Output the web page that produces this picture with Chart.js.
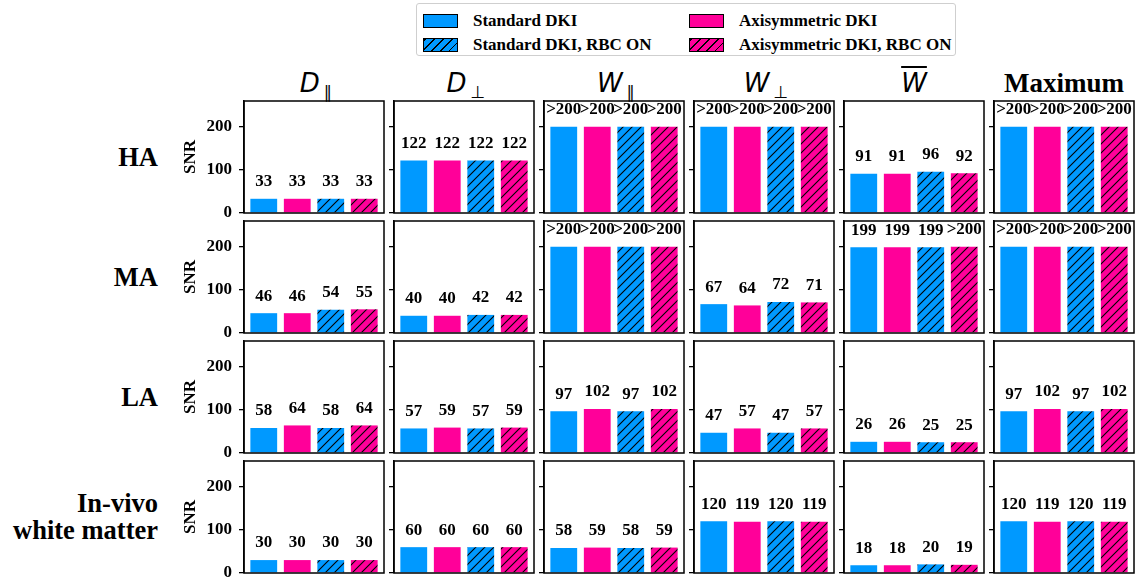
<!DOCTYPE html>
<html>
<head>
<meta charset="utf-8">
<script src="https://cdn.jsdelivr.net/npm/chart.js@4.4.0/dist/chart.umd.min.js"></script>
<style>
  body { margin: 0; width: 1138px; height: 580px; position: relative; background: #fff; overflow: hidden; font-family: 'Liberation Serif', 'Times New Roman', serif; }
  canvas { position: absolute; }
  .row-label { position: absolute; right: 980px; font-family: 'Liberation Serif', 'Times New Roman', serif; font-weight: bold; font-size: 26.5px; line-height: 27px; text-align: right; white-space: pre; transform: translateY(-50%); }
  .col-title { position: absolute; top: 68px; width: 140px; text-align: center; line-height: 30px; white-space: nowrap; color: #000; }
  .m { font-family: 'DejaVu Sans', sans-serif; font-style: italic; font-size: 26px; }
  .sub { display: inline-block; font-family: 'DejaVu Sans', sans-serif; font-size: 17px; transform: translate(4px, 6px); opacity: 0.99; }
  .maxt { font-family: 'Liberation Serif', serif; font-weight: bold; font-size: 27px; }
  #legend { position: absolute; left: 416px; top: 3px; width: 540px; height: 53px; border: 1px solid #cfcfcf; border-radius: 3px; box-sizing: border-box; }
  .lg { position: absolute; font-weight: bold; font-size: 17px; line-height: 20px; white-space: nowrap; }
  .patch { position: absolute; width: 33px; height: 12px; border: 1.5px solid #000; }
</style>
</head>
<body>
<div id="legend"></div>
<script>
// legend / series
const seriesNames = ['Standard DKI', 'Axisymmetric DKI', 'Standard DKI, RBC ON', 'Axisymmetric DKI, RBC ON'];
const seriesColors = ['#0099ff', '#ff0099', '#0099ff', '#ff0099'];
const seriesHatched = [false, false, true, true];

const rowNames = ['HA', 'MA', 'LA', 'In-vivo\nwhite matter'];
const colTitles = [
  '<span class="m">D</span><span class="sub">\u2225</span>',
  '<span class="m">D</span><span class="sub">\u22a5</span>',
  '<span class="m">W</span><span class="sub">\u2225</span>',
  '<span class="m">W</span><span class="sub">\u22a5</span>',
  '<span class="m" style="text-decoration: overline;">W</span>',
  '<span class="maxt">Maximum</span>'
];
const yTicks = [0, 100, 200];
const yMax = 260;

// SNR per panel (D par, D perp, W par, W perp, W mean, Maximum), 4 series each
const haValues = [
  ['33', '33', '33', '33'],
  ['122', '122', '122', '122'],
  ['>200', '>200', '>200', '>200'],
  ['>200', '>200', '>200', '>200'],
  ['91', '91', '96', '92'],
  ['>200', '>200', '>200', '>200']
];
const maValues = [
  ['46', '46', '54', '55'],
  ['40', '40', '42', '42'],
  ['>200', '>200', '>200', '>200'],
  ['67', '64', '72', '71'],
  ['199', '199', '199', '>200'],
  ['>200', '>200', '>200', '>200']
];
const laValues = [
  ['58', '64', '58', '64'],
  ['57', '59', '57', '59'],
  ['97', '102', '97', '102'],
  ['47', '57', '47', '57'],
  ['26', '26', '25', '25'],
  ['97', '102', '97', '102']
];
const invivoValues = [
  ['30', '30', '30', '30'],
  ['60', '60', '60', '60'],
  ['58', '59', '58', '59'],
  ['120', '119', '120', '119'],
  ['18', '18', '20', '19'],
  ['120', '119', '120', '119']
];
const allRows = [haValues, maValues, laValues, invivoValues];

// layout
const panelLeft = [244, 394, 544, 694, 844, 994];
const panelTop = [101, 221, 341, 461];
const PW = 140, PH = 112, PAD = 22;
const serif = "'Liberation Serif', 'Times New Roman', serif";

function hatch(color) {
  const t = document.createElement('canvas');
  t.width = t.height = 9;
  const g = t.getContext('2d');
  g.fillStyle = color;
  g.fillRect(0, 0, 9, 9);
  g.strokeStyle = '#000';
  g.lineWidth = 1.1;
  g.beginPath();
  g.moveTo(0, 9); g.lineTo(9, 0);
  g.moveTo(-1, 1); g.lineTo(1, -1);
  g.moveTo(8, 10); g.lineTo(10, 8);
  g.stroke();
  return g.createPattern(t, 'repeat');
}
const fills = seriesColors.map((c, i) => seriesHatched[i] ? hatch(c) : c);

// legend
const legend = document.getElementById('legend');
const legendPos = [[6, 9], [272, 9], [6, 33], [272, 33]];
seriesNames.forEach((name, i) => {
  const [lx, ly] = legendPos[i];
  const p = document.createElement('div');
  p.className = 'patch';
  p.style.left = lx + 'px';
  p.style.top = (ly + 1) + 'px';
  p.style.background = seriesHatched[i]
    ? `repeating-linear-gradient(-45deg, ${seriesColors[i]} 0 5px, #000 5px 6.3px)`
    : seriesColors[i];
  legend.appendChild(p);
  const t = document.createElement('div');
  t.className = 'lg';
  t.style.left = (lx + 50) + 'px';
  t.style.top = (ly - 2) + 'px';
  t.textContent = name;
  legend.appendChild(t);
});

// titles
colTitles.forEach((html, c) => {
  const d = document.createElement('div');
  d.className = 'col-title';
  d.style.left = panelLeft[c] + 'px';
  d.innerHTML = html;
  document.body.appendChild(d);
});
rowNames.forEach((name, r) => {
  const d = document.createElement('div');
  d.className = 'row-label';
  d.style.top = (panelTop[r] + PH / 2) + 'px';
  d.textContent = name;
  document.body.appendChild(d);
});

const framePlugin = {
  id: 'frame',
  afterDraw(chart) {
    const { left, top, right, bottom } = chart.chartArea;
    const c = chart.ctx;
    c.save();
    c.strokeStyle = '#000';
    c.lineWidth = 1.5;
    c.strokeRect(left, top, right - left, bottom - top);
    c.restore();
  }
};

const labelPlugin = {
  id: 'barLabels',
  afterDatasetsDraw(chart) {
    const c = chart.ctx;
    const texts = chart.data.datasets[0].texts;
    c.save();
    c.fillStyle = '#000';
    c.font = `bold 17px ${serif}`;
    c.textAlign = 'center';
    c.textBaseline = 'middle';
    chart.getDatasetMeta(0).data.forEach((el, i) => {
      c.fillText(texts[i], el.x, el.y - 17);
    });
    c.restore();
  }
};

allRows.forEach((rowVals, r) => {
  rowVals.forEach((texts, c) => {
    const yw = c === 0 ? 64 : 8;
    const cv = document.createElement('canvas');
    cv.width = yw + PW + 4;
    cv.height = PH + PAD * 2;
    cv.style.left = (panelLeft[c] - yw) + 'px';
    cv.style.top = (panelTop[r] - PAD) + 'px';
    document.body.appendChild(cv);

    new Chart(cv, {
      type: 'bar',
      data: {
        datasets: [{
          data: texts.map((t, i) => ({ x: i, y: parseFloat(t.replace('>', '')) })),
          texts: texts,
          backgroundColor: fills,
          borderWidth: 0,
          barPercentage: 0.8,
          categoryPercentage: 1
        }]
      },
      options: {
        responsive: false,
        animation: false,
        layout: { padding: { top: PAD, bottom: PAD, left: 0, right: 4 } },
        plugins: { legend: { display: false }, tooltip: { enabled: false } },
        scales: {
          x: { type: 'linear', min: -0.59, max: 3.59, display: false, offset: false },
          y: {
            min: 0,
            max: yMax,
            afterFit: s => { s.width = yw; },
            afterBuildTicks: s => { s.ticks = yTicks.map(v => ({ value: v })); },
            ticks: {
              display: c === 0,
              color: '#000',
              padding: 7,
              font: { family: serif, weight: 'bold', size: 17 }
            },
            grid: { drawOnChartArea: false, drawTicks: true, tickLength: 5, color: '#000', lineWidth: 1.3 },
            border: { display: true, color: '#000', width: 1.5 },
            title: {
              display: c === 0,
              text: 'SNR',
              color: '#000',
              padding: 0,
              font: { family: serif, weight: 'bold', size: 17 }
            }
          }
        }
      },
      plugins: [framePlugin, labelPlugin]
    });
  });
});
</script>
</body>
</html>
